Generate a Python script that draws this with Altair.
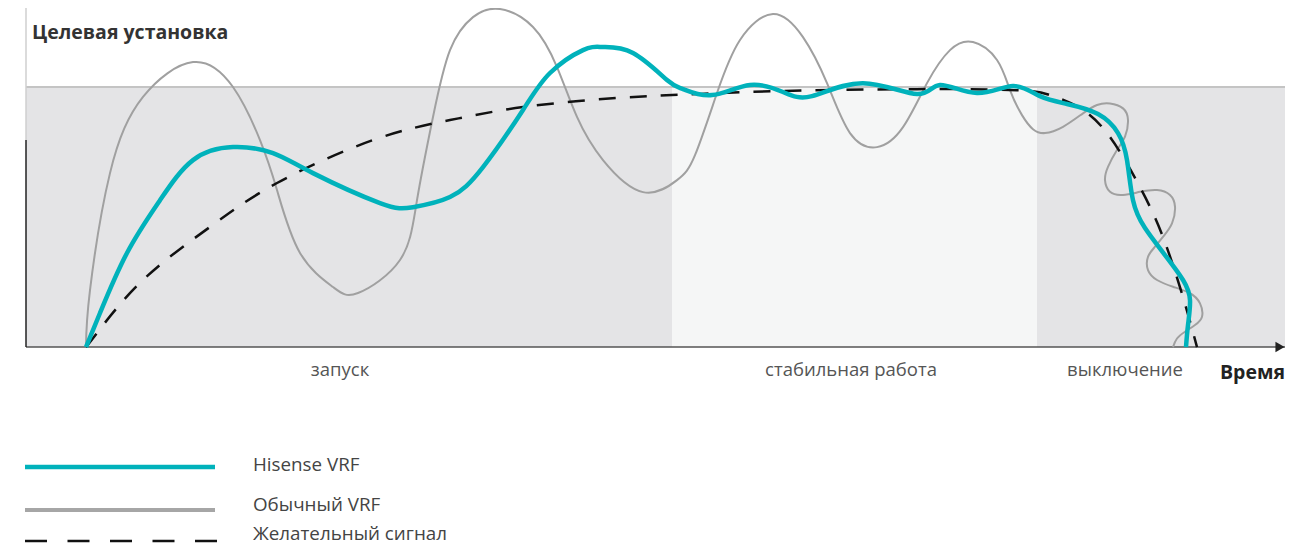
import altair as alt
import pandas as pd

# ---------------- data ----------------
TARGET = 100.0          # target setpoint level
X_MAX = 125.9           # end of time axis
Y_MIN, Y_MAX = -76.5, 130.4
AXIS_SPLIT = 79.6       # where y-axis line turns from grey to black

phase_names = ["запуск", "стабильная работа", "выключение"]
phase_start = [0.0, 64.6, 101.1]
phase_end = [64.6, 101.1, 125.9]
phase_label_t = [31.4, 82.5, 109.9]

hisense_t = [6.0, 7.4, 10.1, 13.4, 16.7, 20.7, 24.7, 28.7, 35.4, 38.7, 42.4, 45.7,
             49.7, 52.4, 55.7, 57.7, 60.7, 64.1, 65.7, 68.6, 72.4, 75.7, 78.6,
             83.7, 89.1, 91.4, 95.1, 98.7, 101.4, 104.1, 107.2, 109.2, 110.1,
             110.7, 111.9, 113.9, 115.7, 116.4, 116.2, 116.0]
hisense_v = [0.0, 13.1, 36.2, 56.5, 71.9, 76.9, 74.6, 66.9, 55.4, 53.8, 57.7, 69.2,
             91.2, 105.4, 114.2, 115.4, 113.1, 102.7, 99.2, 96.9, 100.8, 98.1, 96.5,
             101.5, 97.3, 100.8, 97.7, 100.4, 96.5, 93.5, 89.6, 82.3, 71.9,
             56.5, 45.8, 35.4, 25.8, 18.1, 8.5, 0.0]

common_t = [6.0, 6.4, 8.4, 11.7, 16.7, 20.7, 23.4, 25.1, 27.4, 30.7, 33.2, 37.4,
            39.1, 40.7, 42.4, 44.7, 47.4, 50.7, 53.1, 55.1, 57.7, 61.7, 65.1, 66.9,
            69.1, 71.4, 74.7, 77.7, 80.1, 82.4, 85.1, 87.7, 90.1, 92.4, 94.7, 97.1,
            98.4, 99.6, 100.7, 101.9, 103.7, 105.7, 107.1, 108.4, 109.7, 110.2,
            109.9, 109.1, 108.2, 107.9, 108.4, 109.7, 111.4, 113.1, 114.4, 114.9,
            114.6, 113.7, 112.9, 112.2, 112.2, 113.1, 114.7, 116.4, 117.4, 117.6,
            116.9, 115.9, 115.1, 114.7]
common_v = [0.0, 21.9, 66.9, 96.2, 109.6, 100.0, 79.6, 60.4, 36.2, 23.1, 20.8, 33.5,
            56.5, 88.5, 114.2, 126.9, 130.0, 123.1, 107.7, 88.5, 71.9, 59.6, 64.2, 73.8,
            97.7, 118.1, 128.1, 119.2, 101.5, 82.3, 76.9, 84.6, 101.5, 114.2, 117.3, 110.4,
            98.8, 89.2, 83.8, 82.3, 84.7, 89.9, 93.1, 93.7, 91.8, 87.3,
            80.9, 75.8, 69.3, 64.2, 59.7, 58.5, 59.7, 60.4, 58.5, 54.0,
            47.6, 42.4, 38.6, 34.7, 29.6, 25.8, 23.2, 20.7, 16.8, 11.7,
            8.5, 5.9, 3.3, 0.0]

desired_t = [6.0, 7.1, 11.7, 18.4, 25.1, 34.7, 42.4, 49.7, 59.1, 67.1, 75.7, 89.1,
             99.1, 102.4, 105.4, 108.4, 111.4, 113.7, 115.7, 117.1]
desired_v = [0.0, 5.4, 25.8, 46.2, 63.1, 79.6, 87.3, 92.3, 95.8, 97.3, 98.5, 99.2,
             98.8, 96.9, 91.9, 80.8, 61.5, 42.3, 19.2, 0.0]

legend_labels = ["Hisense VRF", "Обычный VRF", "Желательный сигнал"]

# ---------------- styling ----------------
TEAL = "#00b2bb"
GREY = "#a0a0a0"
FONT = "Open Sans"
CURVE = "natural"

XS = alt.Scale(domain=[0, X_MAX], nice=False, zero=False)
YS = alt.Scale(domain=[Y_MIN, Y_MAX], nice=False, zero=False)


def X(f):
    return alt.X(f, scale=XS, axis=None)


def Y(f):
    return alt.Y(f, scale=YS, axis=None)


def series(t, v):
    return pd.DataFrame({"t": t, "v": v, "i": list(range(len(t)))})


phase_df = pd.DataFrame({"name": phase_names, "start": phase_start, "end": phase_end,
                         "lo": [0.0] * 3, "hi": [TARGET] * 3, "lt": phase_label_t})

bands = alt.Chart(phase_df).mark_rect().encode(
    x=X("start:Q"), x2="end:Q", y=Y("lo:Q"), y2="hi:Q",
    color=alt.Color("name:N", scale=alt.Scale(domain=phase_names,
                                              range=["#e4e4e6", "#f5f6f6", "#e4e4e6"]),
                    legend=None),
)

target_line = alt.Chart(pd.DataFrame({"v": [TARGET]})).mark_rule(
    color="#c4c4c4", strokeWidth=2).encode(y=Y("v:Q"))

x_axis = alt.Chart(pd.DataFrame({"v": [0.0]})).mark_rule(
    color="#555555", strokeWidth=1.5).encode(y=Y("v:Q"))

y_axis_df = pd.DataFrame({"t": [0.0, 0.0], "lo": [0.0, AXIS_SPLIT],
                          "hi": [AXIS_SPLIT, Y_MAX], "part": ["a", "b"]})
y_axis = alt.Chart(y_axis_df).mark_rule(strokeWidth=1.5).encode(
    x=X("t:Q"), y=Y("lo:Q"), y2="hi:Q",
    color=alt.Color("part:N", scale=alt.Scale(domain=["a", "b"], range=["#222222", "#cfcfcf"]),
                    legend=None),
)

arrow = alt.Chart(pd.DataFrame({"t": [X_MAX - 0.5], "v": [0.0]})).mark_point(
    shape="triangle-right", filled=True, size=110, color="#222222", opacity=1).encode(
    x=X("t:Q"), y=Y("v:Q"))

common_line = alt.Chart(series(common_t, common_v)).mark_line(
    interpolate=CURVE, color=GREY, strokeWidth=2).encode(
    x=X("t:Q"), y=Y("v:Q"), order="i:Q")

desired_line = alt.Chart(series(desired_t, desired_v)).mark_line(
    interpolate=CURVE, color="#111111", strokeWidth=2.5, strokeDash=[17, 14]).encode(
    x=X("t:Q"), y=Y("v:Q"), order="i:Q")

hisense_line = alt.Chart(series(hisense_t, hisense_v)).mark_line(
    interpolate=CURVE, color=TEAL, strokeWidth=4.5).encode(
    x=X("t:Q"), y=Y("v:Q"), order="i:Q")

phase_text = alt.Chart(phase_df).mark_text(
    font=FONT, fontSize=18.5, color="#555555", align="center", baseline="middle").encode(
    x=X("lt:Q"), y=alt.value(362), text="name:N")

time_text = alt.Chart(pd.DataFrame({"t": [X_MAX], "s": ["Время"]})).mark_text(
    font=FONT, fontSize=19.5, fontWeight="bold", color="#222222", align="right",
    baseline="middle").encode(x=X("t:Q"), y=alt.value(365), text="s:N")

title_text = alt.Chart(pd.DataFrame({"s": ["Целевая установка"]})).mark_text(
    font=FONT, fontSize=19.5, fontWeight="bold", color="#333333", align="left",
    baseline="middle").encode(x=alt.value(6), y=alt.value(25), text="s:N")

# ---------------- manual legend ----------------
leg_df = pd.DataFrame({"label": legend_labels})


def leg_row(i):
    return alt.Chart(leg_df).transform_filter(alt.datum.label == legend_labels[i])


leg_teal = leg_row(0).mark_rule(color=TEAL, strokeWidth=4.5).encode(
    x=alt.value(-1), x2=alt.value(189), y=alt.value(459))
leg_grey = leg_row(1).mark_rule(color="#a6a6a6", strokeWidth=4).encode(
    x=alt.value(-1), x2=alt.value(189), y=alt.value(502))
leg_dash = leg_row(2).mark_rule(color="#111111", strokeWidth=2.5, strokeDash=[22, 20.5]).encode(
    x=alt.value(-1), x2=alt.value(191), y=alt.value(533))

leg_texts = []
for i, yy in enumerate([457, 497, 526]):
    leg_texts.append(leg_row(i).mark_text(
        font=FONT, fontSize=18.8, color="#444444", align="left", baseline="middle").encode(
        x=alt.value(227), y=alt.value(yy), text="label:N"))

chart = alt.layer(
    bands, target_line, x_axis, y_axis, arrow,
    common_line, desired_line, hisense_line,
    phase_text, time_text, title_text,
    leg_teal, leg_grey, leg_dash, *leg_texts,
).resolve_scale(color="independent").properties(
    width=1259, height=538,
    padding={"left": 18, "top": 0, "right": 0, "bottom": 0},
    autosize=alt.AutoSizeParams(type="none"),
    background="white",
).configure_view(stroke=None)

chart.save("out.html", embed_options={"renderer": "svg", "actions": False})
